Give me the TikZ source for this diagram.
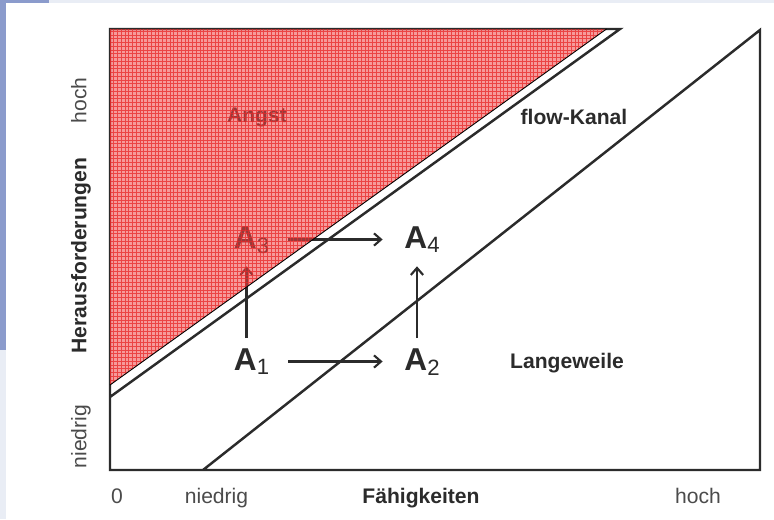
\documentclass[tikz,border=0pt]{standalone}
\usepackage{fontspec}
\setmainfont{Liberation Sans}
\usepackage{xcolor}
\usepackage{tikz}
\usetikzlibrary{arrows.meta}
\definecolor{fkink}{HTML}{2B2B2B}
\definecolor{fkred}{HTML}{F04848}
\definecolor{fkgrid}{HTML}{E82828}
\definecolor{fkblue}{HTML}{8B9BCC}
\definecolor{fkmist}{HTML}{E9EDF5}

\begin{document}
\begin{tikzpicture}[
  font=\fontsize{12}{14}\selectfont,
  frame/.style={draw=fkink, line width=1.4pt},
  state/.style={font=\fontsize{18}{18}\selectfont\bfseries, text=fkink, inner xsep=0.36cm, inner ysep=0.18cm, text height=12.9pt, text depth=3pt},
  lbl/.style={font=\fontsize{12}{14}\selectfont\bfseries, text=fkink},
  tick/.style={text=fkink!85, anchor=base},
  arr/.style={-{Straight Barb[length=4pt,width=7pt]}, line width=1.2pt, fkink, shorten >=2pt}
]
\useasboundingbox (-2.2,-0.98) rectangle (13.28,9.4);
% slide background
\fill[white] (-2.2,-0.98) rectangle (13.28,9.4);
\fill[fkblue] (-2.2,9.4) rectangle (-2.08,2.4);
\fill[fkmist] (-2.2,2.4) rectangle (-2.08,-0.98);
\fill[fkblue] (-2.2,9.34) rectangle (-1.22,9.4);
\fill[fkmist] (-1.22,9.34) rectangle (13.28,9.4);
% frame and channel
\draw[frame] (0,1.46) -- (10.2,8.82) -- (0,8.82) -- (0,0) -- (13,0) -- (13,8.8) -- (1.86,0);
% states
\node[state] (a1) at (2.84,2.17) {A\textsubscript{\mdseries 1}};
\node[state] (a2) at (6.25,2.17) {A\textsubscript{\mdseries 2}};
\node[state] (a3) at (2.84,4.61) {A\textsubscript{\mdseries 3}};
\node[state] (a4) at (6.25,4.61) {A\textsubscript{\mdseries 4}};
\draw[arr] (a1) -- (a2);
\draw[arr] (a3) -- (a4);
\draw[arr] ([xshift=-0.11cm]a1.north) -- ([xshift=-0.11cm]a3.south);
\draw[arr] ([xshift=-0.11cm]a2.north) -- ([xshift=-0.11cm]a4.south);
% zones
\node[lbl] (angst) at (2.94,7.06) {Angst};
\node[lbl] (flow) at (9.28,7.06) {flow-Kanal};
\node[lbl] (weile) at (9.14,2.14) {Langeweile};
% axes
\node[tick] (x0) at (0.14,-0.66) {0};
\node[tick] (xlo) at (2.13,-0.66) {niedrig};
\node[lbl, anchor=base] (xlab) at (6.22,-0.66) {Fähigkeiten};
\node[tick] (xhi) at (11.76,-0.66) {hoch};
\node[tick, rotate=90] (ylo) at (-0.47,0.67) {niedrig};
\node[lbl, anchor=base, rotate=90] (ylab) at (-0.47,4.29) {Herausforderungen};
\node[tick, rotate=90] (yhi) at (-0.47,7.39) {hoch};
% red overlay
\begin{scope}
\clip (0,8.82) -- (9.93,8.82) -- (0,1.7) -- cycle;
\fill[fkred, fill opacity=0.55] (0,1.7) rectangle (9.93,8.82);
\draw[fkgrid, draw opacity=0.75, line width=0.4pt, step=0.075] (0,1.7) grid (9.93,8.82);
\end{scope}
\draw[black, line width=0.5pt] (0,1.7) -- (9.93,8.82);
\end{tikzpicture}
\end{document}
